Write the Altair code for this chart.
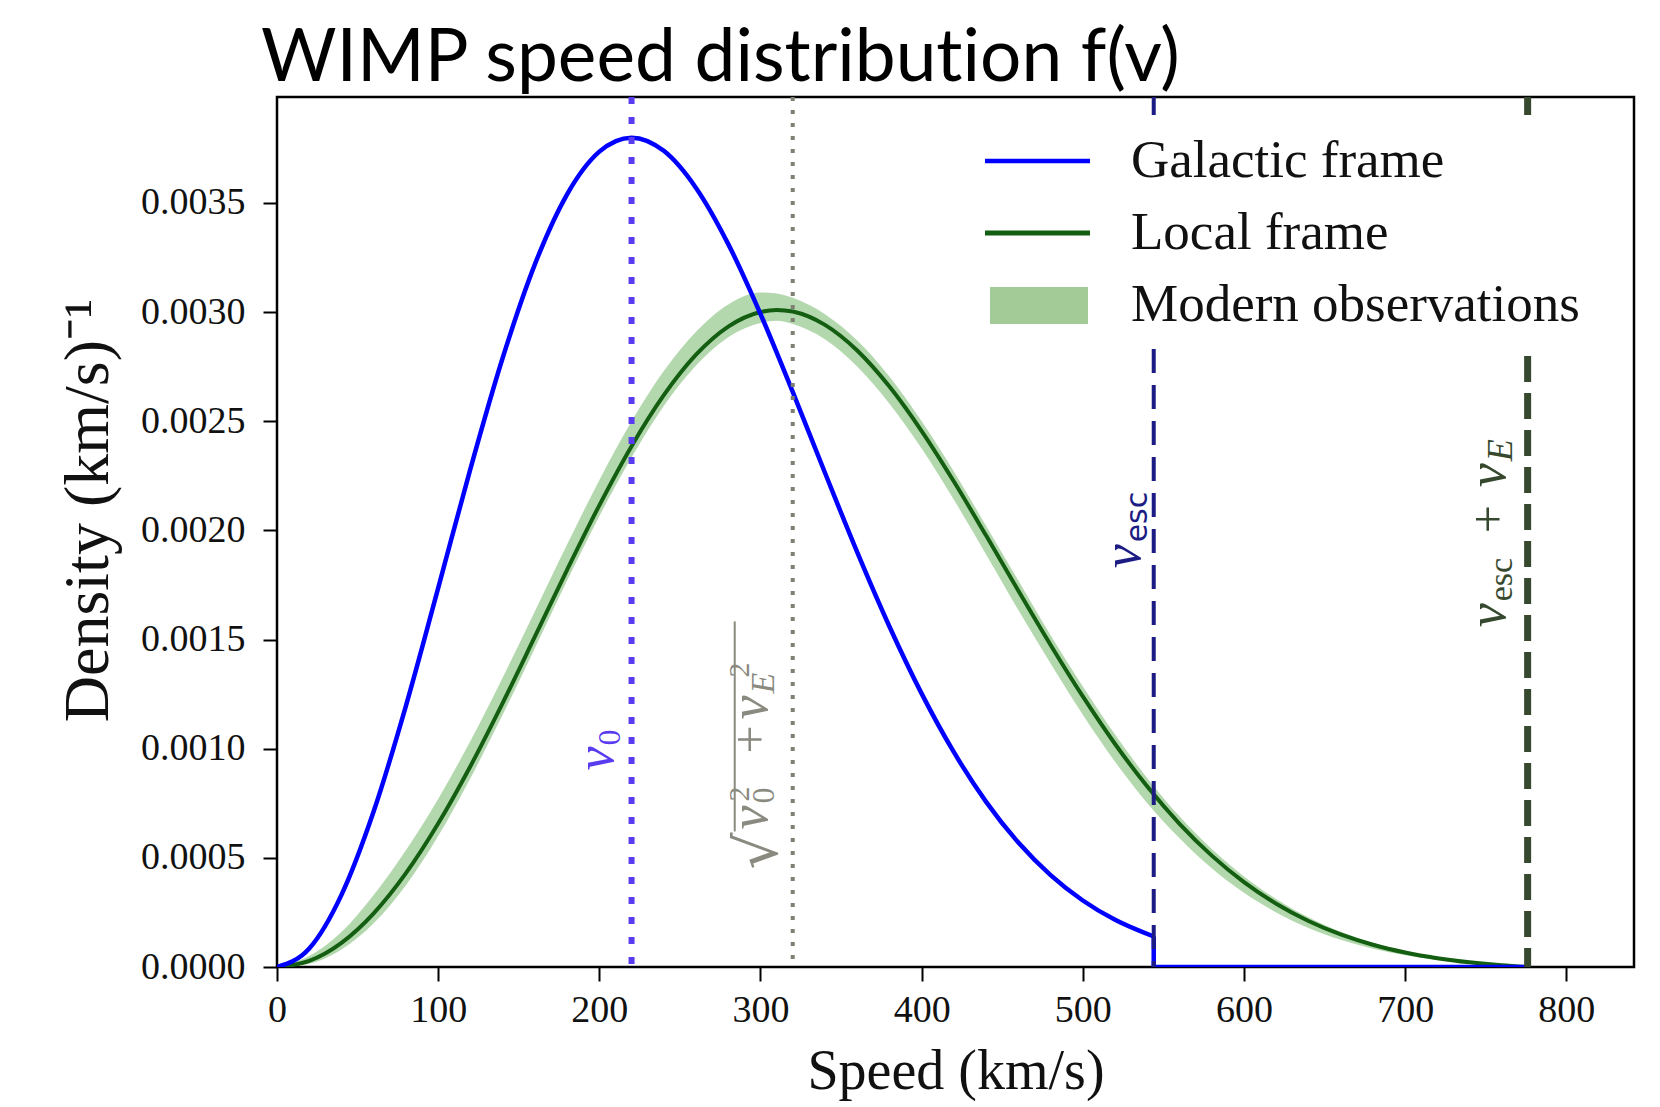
import altair as alt
import pandas as pd

# ---------------- data ----------------
gal_speed = [0, 20, 40, 60, 80, 100, 120, 140, 160, 180, 200, 220, 240, 260,
             280, 300, 320, 340, 360, 380, 400, 420, 440, 460, 480, 500, 520, 544]
gal_density = [0.0, 0.0000846, 0.0003303, 0.000713, 0.0011964, 0.0017354,
               0.0022819, 0.0027895, 0.0032185, 0.0035394, 0.0037346, 0.0037989,
               0.0037384, 0.0035685, 0.0033112, 0.002991, 0.002634, 0.0022637,
               0.0019005, 0.0015599, 0.0012522, 0.0009838, 0.0007566, 0.00057,
               0.0004208, 0.0003046, 0.0002161, 0.0001397]

tail_speed = [544, 544, 776]
tail_density = [0.0001397, 0.0, 0.0]

loc_speed = [0, 20, 40, 60, 80, 100, 120, 140, 160, 180, 200, 220, 240, 260,
             280, 300, 310, 320, 340, 360, 380, 400, 420, 440, 460, 480, 500, 520,
             540, 560, 580, 600, 620, 640, 660, 680, 700, 720, 740, 760, 776]
loc_density = [0.0, 0.0000278, 0.0001104, 0.0002457, 0.0004297, 0.000657,
               0.0009198, 0.0012088, 0.0015129, 0.0018194, 0.0021147, 0.0023857,
               0.0026192, 0.0028046, 0.0029334, 0.0030002, 0.0030099, 0.0030023,
               0.0029412, 0.0028239, 0.0026585, 0.0024548, 0.0022236, 0.0019761,
               0.0017234, 0.0014752, 0.0012392, 0.0010216, 0.0008264, 0.0006558,
               0.0005102, 0.0003889, 0.00029, 0.000211, 0.0001494, 0.0001021,
               0.0000666, 0.0000404, 0.0000214, 0.0000078, 0.0]
band_low = [0.0, 0.000015, 0.00008, 0.0002, 0.000375, 0.0006, 0.000865,
            0.001155, 0.00146, 0.00177, 0.002065, 0.002335, 0.00257, 0.002755,
            0.002885, 0.00295, 0.00296, 0.002945, 0.002875, 0.00275, 0.00258,
            0.002375, 0.00214, 0.00189, 0.001635, 0.00139, 0.001155, 0.00094,
            0.00075, 0.00059, 0.000452, 0.00034, 0.00025, 0.000179, 0.000125,
            0.000084, 0.000054, 0.000032, 0.000016, 0.000005, 0.0]
band_high = [0.0, 0.00005, 0.00016, 0.00033, 0.000535, 0.00077, 0.001035,
             0.001325, 0.00163, 0.001935, 0.00223, 0.0025, 0.00273, 0.00291,
             0.003035, 0.00309, 0.003085, 0.003065, 0.00299, 0.00287, 0.002705,
             0.0025, 0.00227, 0.00202, 0.00177, 0.00152, 0.001285, 0.001065,
             0.000865, 0.00069, 0.00054, 0.000415, 0.000312, 0.000228, 0.000162,
             0.000111, 0.000073, 0.000045, 0.000025, 0.00001, 0.0]

marker_speed = [220, 320, 544, 776]   # v0, sqrt(v0^2+vE^2), v_esc, v_esc+v_E
legend_labels = ["Galactic frame", "Local frame", "Modern observations"]
x_ticks = [0, 100, 200, 300, 400, 500, 600, 700, 800]
y_ticks = [0.0, 0.0005, 0.001, 0.0015, 0.002, 0.0025, 0.003, 0.0035]
# zero-width non-joiner keeps the font from fusing "ti" into a ligature
title_text = "WIMP speed distribut\u200cion f(v)"
x_title = "Speed (km/s)"
y_title = "Density (km/s)\u207b\u00b9"

# ---------------- styling ----------------
BLUE = "#0000ff"
GREEN = "#145e12"
BAND = "#74b86a"
V0_COL = "#5a3cf0"
MID_COL = "#8a8a80"
ESC_COL = "#1c1c84"
ESCE_COL = "#36492f"
SERIF = "Liberation Serif"

W, H = 1357, 870
xscale = alt.Scale(domain=[0, 842], nice=False, zero=False)
yscale = alt.Scale(domain=[0, 0.003985], nice=False, zero=False)
xaxis = alt.Axis(values=x_ticks, format="d", title=x_title, labelFlush=False,
                 labelOverlap=False, labelPadding=10, titleX=W / 2, titleY=104,
                 titleAlign="center", titleBaseline="middle", titleFontSize=56)
yaxis = alt.Axis(values=y_ticks, format=".4f", title=y_title, labelFlush=False,
                 labelOverlap=False, labelPadding=18, titleX=-189, titleY=413,
                 titleAngle=270, titleAlign="center", titleBaseline="middle",
                 titleFontSize=64)


def X(field):
    return alt.X(field, type="quantitative", scale=xscale, axis=xaxis)


def Y(field):
    return alt.Y(field, type="quantitative", scale=yscale, axis=yaxis)


gal_df = pd.DataFrame({"speed": gal_speed, "density": gal_density})
tail_df = pd.DataFrame({"speed": tail_speed, "density": tail_density,
                        "idx": list(range(len(tail_speed)))})
loc_df = pd.DataFrame({"speed": loc_speed, "density": loc_density,
                       "lo": band_low, "hi": band_high})

band = alt.Chart(loc_df).mark_area(color=BAND, opacity=0.55, interpolate="monotone",
                                   clip=True).encode(
    x=X("speed"), y=Y("lo"), y2="hi")
green = alt.Chart(loc_df).mark_line(color=GREEN, strokeWidth=4,
                                    interpolate="monotone", clip=True).encode(
    x=X("speed"), y=Y("density"))
blue = alt.Chart(gal_df).mark_line(color=BLUE, strokeWidth=4.5,
                                   interpolate="monotone", clip=True).encode(
    x=X("speed"), y=Y("density"))
blue_tail = alt.Chart(tail_df).mark_line(color=BLUE, strokeWidth=4.5, clip=True).encode(
    x=X("speed"), y=Y("density"), order=alt.Order("idx:Q"))


def vline(speed, color, width, dash):
    return alt.Chart(pd.DataFrame({"speed": [speed]})).mark_rule(
        color=color, strokeWidth=width, strokeDash=dash, strokeCap="butt",
        clip=True).encode(x=X("speed"))


lines = [
    vline(marker_speed[0], V0_COL, 6, [7, 13]),
    vline(marker_speed[1], "#7f7f72", 4, [4, 9]),
    vline(marker_speed[2], ESC_COL, 4, [24, 12]),
    vline(marker_speed[3], ESCE_COL, 7, [26, 11]),
]


def label(speed, dens, pieces, color):
    out = []
    for txt, size, italic, dx, dy, font in pieces:
        kw = dict(text=txt, angle=270, align="left", baseline="alphabetic",
                  dx=dx, dy=dy, font=font, fontSize=size, color=color)
        if italic:
            kw["fontStyle"] = "italic"
        out.append(alt.Chart(pd.DataFrame({"a": [0]})).mark_text(**kw).encode(
            x=alt.datum(speed), y=alt.datum(dens)))
    return out


labels = []
labels += label(marker_speed[0], 0.0009, [
    ("v", 54, True, 0, -19, SERIF),
    ("0", 32, False, 25, -12, SERIF)], V0_COL)
labels += label(marker_speed[1], 0.000447, [
    ("\u221a", 58, False, 0, -16, "DejaVu Sans"),
    ("v", 54, True, 40, -26, SERIF),
    ("0", 32, False, 66, -19, SERIF),
    ("2", 30, False, 68, -44, SERIF),
    ("+", 50, False, 116, -26, SERIF),
    ("v", 54, True, 150, -26, SERIF),
    ("E", 34, True, 176, -19, SERIF),
    ("2", 30, False, 192, -44, SERIF)], MID_COL)
labels += label(marker_speed[2], 0.001826, [
    ("v", 54, True, 0, -14, SERIF),
    ("esc", 30, False, 26, -7, "DejaVu Sans")], ESC_COL)
labels += label(marker_speed[3], 0.001556, [
    ("v", 54, True, 0, -23, SERIF),
    ("esc", 34, False, 26, -16, SERIF),
    ("+", 50, False, 94, -23, SERIF),
    ("v", 54, True, 140, -23, SERIF),
    ("E", 36, True, 166, -16, SERIF)], ESCE_COL)

overline = alt.Chart(pd.DataFrame({"speed": [marker_speed[1]]})).mark_rule(
    color=MID_COL, strokeWidth=2, xOffset=-58).encode(
    x=X("speed"), y=alt.datum(0.000621), y2=alt.datum(0.001583))

one = pd.DataFrame({"a": [0]})
title_mark = alt.Chart(pd.DataFrame({"t": [title_text]})).mark_text(
    align="left", baseline="alphabetic", font="Lato", fontSize=73,
    color="#000000").encode(text="t:N", x=alt.value(-16), y=alt.value(-16))
legend_box = alt.Chart(one).mark_rect(color="white").encode(
    x=alt.value(688), x2=alt.value(1335), y=alt.value(18), y2=alt.value(252))
leg_blue = alt.Chart(one).mark_rule(color=BLUE, strokeWidth=4.5).encode(
    x=alt.value(708), x2=alt.value(813), y=alt.value(64))
leg_green = alt.Chart(one).mark_rule(color=GREEN, strokeWidth=5).encode(
    x=alt.value(708), x2=alt.value(813), y=alt.value(136))
leg_patch = alt.Chart(one).mark_rect(color="#a3cb98").encode(
    x=alt.value(713), x2=alt.value(811), y=alt.value(190), y2=alt.value(227))
leg_texts = []
for lab, ypix in zip(legend_labels, [64, 136, 208]):
    leg_texts.append(alt.Chart(pd.DataFrame({"label": [lab]})).mark_text(
        align="left", baseline="middle", font=SERIF, fontSize=53, color="#111111"
    ).encode(text="label:N", x=alt.value(854), y=alt.value(ypix)))

chart = alt.layer(
    band, green, blue, blue_tail, *lines, overline, *labels,
    legend_box, leg_blue, leg_green, leg_patch, *leg_texts, title_mark
).properties(
    width=W, height=H,
    autosize=alt.AutoSizeParams(type="none"),
    padding={"left": 269, "top": 89, "right": 10, "bottom": 135},
).configure_view(
    stroke="black", strokeWidth=2.5
).configure_axis(
    grid=False, domain=False, tickColor="black", tickWidth=2, tickSize=14,
    labelFont=SERIF, labelFontSize=38, labelColor="#111111",
    titleFont=SERIF, titleFontWeight="normal", titleColor="#111111"
)

chart.save("out.html", embed_options={"renderer": "svg", "actions": False})
